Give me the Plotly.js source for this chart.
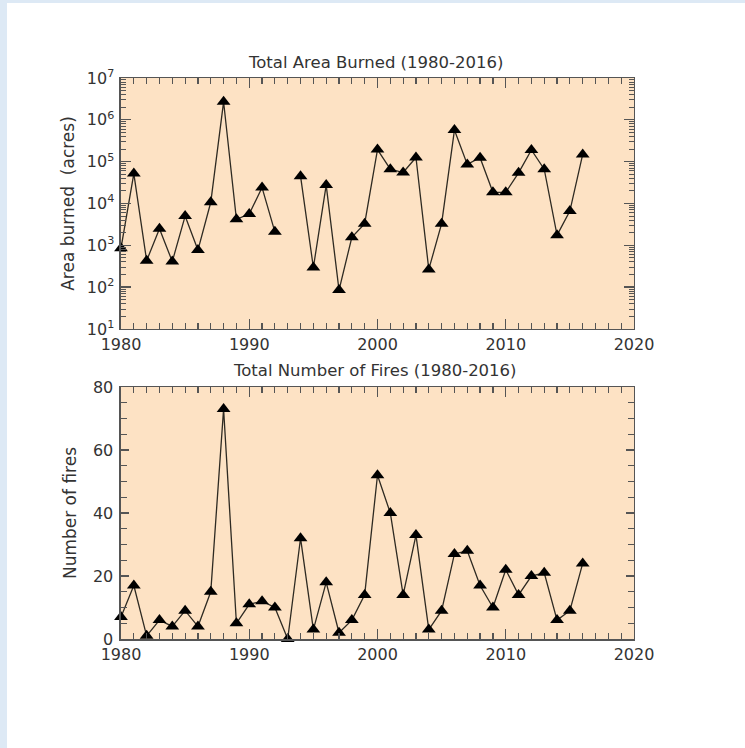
<!DOCTYPE html>
<html>
<head>
<meta charset="utf-8">
<script src="https://cdn.plot.ly/plotly-3.0.1.min.js"></script>
<style>
html,body{margin:0;padding:0;background:#fff;}
#chart{width:745px;height:748px;}
</style>
</head>
<body>
<div id="chart"></div>
<script>
const years = [1980,1981,1982,1983,1984,1985,1986,1987,1988,1989,1990,1991,1992,1993,1994,1995,1996,1997,1998,1999,2000,2001,2002,2003,2004,2005,2006,2007,2008,2009,2010,2011,2012,2013,2014,2015,2016];
const areaBurned = [850,52000,430,2500,410,5000,770,10700,2700000,4200,5600,24000,2100,null,45000,295,27500,85,1550,3300,195000,66000,55000,126000,265,3300,570000,86000,124000,18500,18500,54000,190000,66000,1750,6600,149000];
const numFires = [7,17,1,6,4,9,4,15,73,5,11,12,10,0,32,3,18,2,6,14,52,40,14,33,3,9,27,28,17,10,22,14,20,21,6,9,24];
const logTickVals = [10,100,1000,10000,100000,1000000,10000000];
const logTickText = ['10<sup>1</sup>','10<sup>2</sup>','10<sup>3</sup>','10<sup>4</sup>','10<sup>5</sup>','10<sup>6</sup>','10<sup>7</sup>'];
const titles = ['Total Area Burned (1980-2016)','Total Number of Fires (1980-2016)'];

const FF = 'DejaVu Sans, sans-serif';
const font = {family:FF, size:16, color:'#333'};
const lineStyle = {color:'#2e2a22', width:1.3};
const markerStyle = {symbol:'triangle-up', size:12, color:'#000'};

const traces = [
  {x:years, y:areaBurned, type:'scatter', mode:'lines+markers', connectgaps:false, cliponaxis:false,
   line:lineStyle, marker:markerStyle, xaxis:'x', yaxis:'y', hoverinfo:'x+y'},
  {x:years, y:numFires, type:'scatter', mode:'lines+markers', cliponaxis:false,
   line:lineStyle, marker:markerStyle, xaxis:'x2', yaxis:'y2', hoverinfo:'x+y'}
];

const axCommon = {
  showline:true, linecolor:'#555', linewidth:1.5, mirror:'ticks',
  ticks:'inside', tickcolor:'#555', tickwidth:1.3, showgrid:false, zeroline:false,
  tickfont:{family:FF, size:16, color:'#333'}
};
const xAx = (anchor) => Object.assign({}, axCommon, {
  range:[1980,2020], dtick:10, tick0:1980, ticklen:10, anchor:anchor,
  domain:[0.1624,0.851],
  minor:{dtick:1, ticks:'inside', ticklen:6, tickcolor:'#555', tickwidth:1.2, showgrid:false}
});

const layout = {
  width:745, height:748,
  margin:{l:0,r:0,t:0,b:0},
  paper_bgcolor:'#ffffff',
  plot_bgcolor:'#fde2c4',
  showlegend:false,
  font:font,
  xaxis: xAx('y'),
  xaxis2: xAx('y2'),
  yaxis: Object.assign({}, axCommon, {
    type:'log', range:[1,7], domain:[0.5602,0.8957], anchor:'x',
    tickvals:logTickVals, ticktext:logTickText, ticklen:10, ticklabelstandoff:2,
    minor:{dtick:'D1', ticks:'inside', ticklen:5, tickcolor:'#555', tickwidth:1, showgrid:false},
    title:{text:'Area burned  (acres)', font:{family:FF, size:17, color:'#333'}, standoff:8}
  }),
  yaxis2: Object.assign({}, axCommon, {
    range:[0,80], dtick:20, domain:[0.1457,0.4826], anchor:'x2', ticklen:8, ticklabelstandoff:3,
    minor:{dtick:5, ticks:'inside', ticklen:6, tickcolor:'#555', tickwidth:1.2, showgrid:false},
    title:{text:'Number of fires', font:{family:FF, size:17, color:'#333'}, standoff:12}
  }),
  annotations:[
    {text:titles[0], xref:'paper', yref:'paper', x:0.5035, y:1-62/748, xanchor:'center', yanchor:'middle', showarrow:false, font:{family:FF, size:16.5, color:'#333'}},
    {text:titles[1], xref:'paper', yref:'paper', x:0.5035, y:1-370/748, xanchor:'center', yanchor:'middle', showarrow:false, font:{family:FF, size:16.5, color:'#333'}}
  ],
  shapes:[
    {type:'rect', xref:'paper', yref:'paper', x0:0, x1:7/745, y0:0, y1:1, fillcolor:'#dde9f5', line:{width:0}, layer:'below'},
    {type:'rect', xref:'paper', yref:'paper', x0:0, x1:1, y0:1-3/748, y1:1, fillcolor:'#dde9f5', line:{width:0}, layer:'below'}
  ]
};

Plotly.newPlot('chart', traces, layout, {displayModeBar:false, staticPlot:true});
</script>
</body>
</html>
